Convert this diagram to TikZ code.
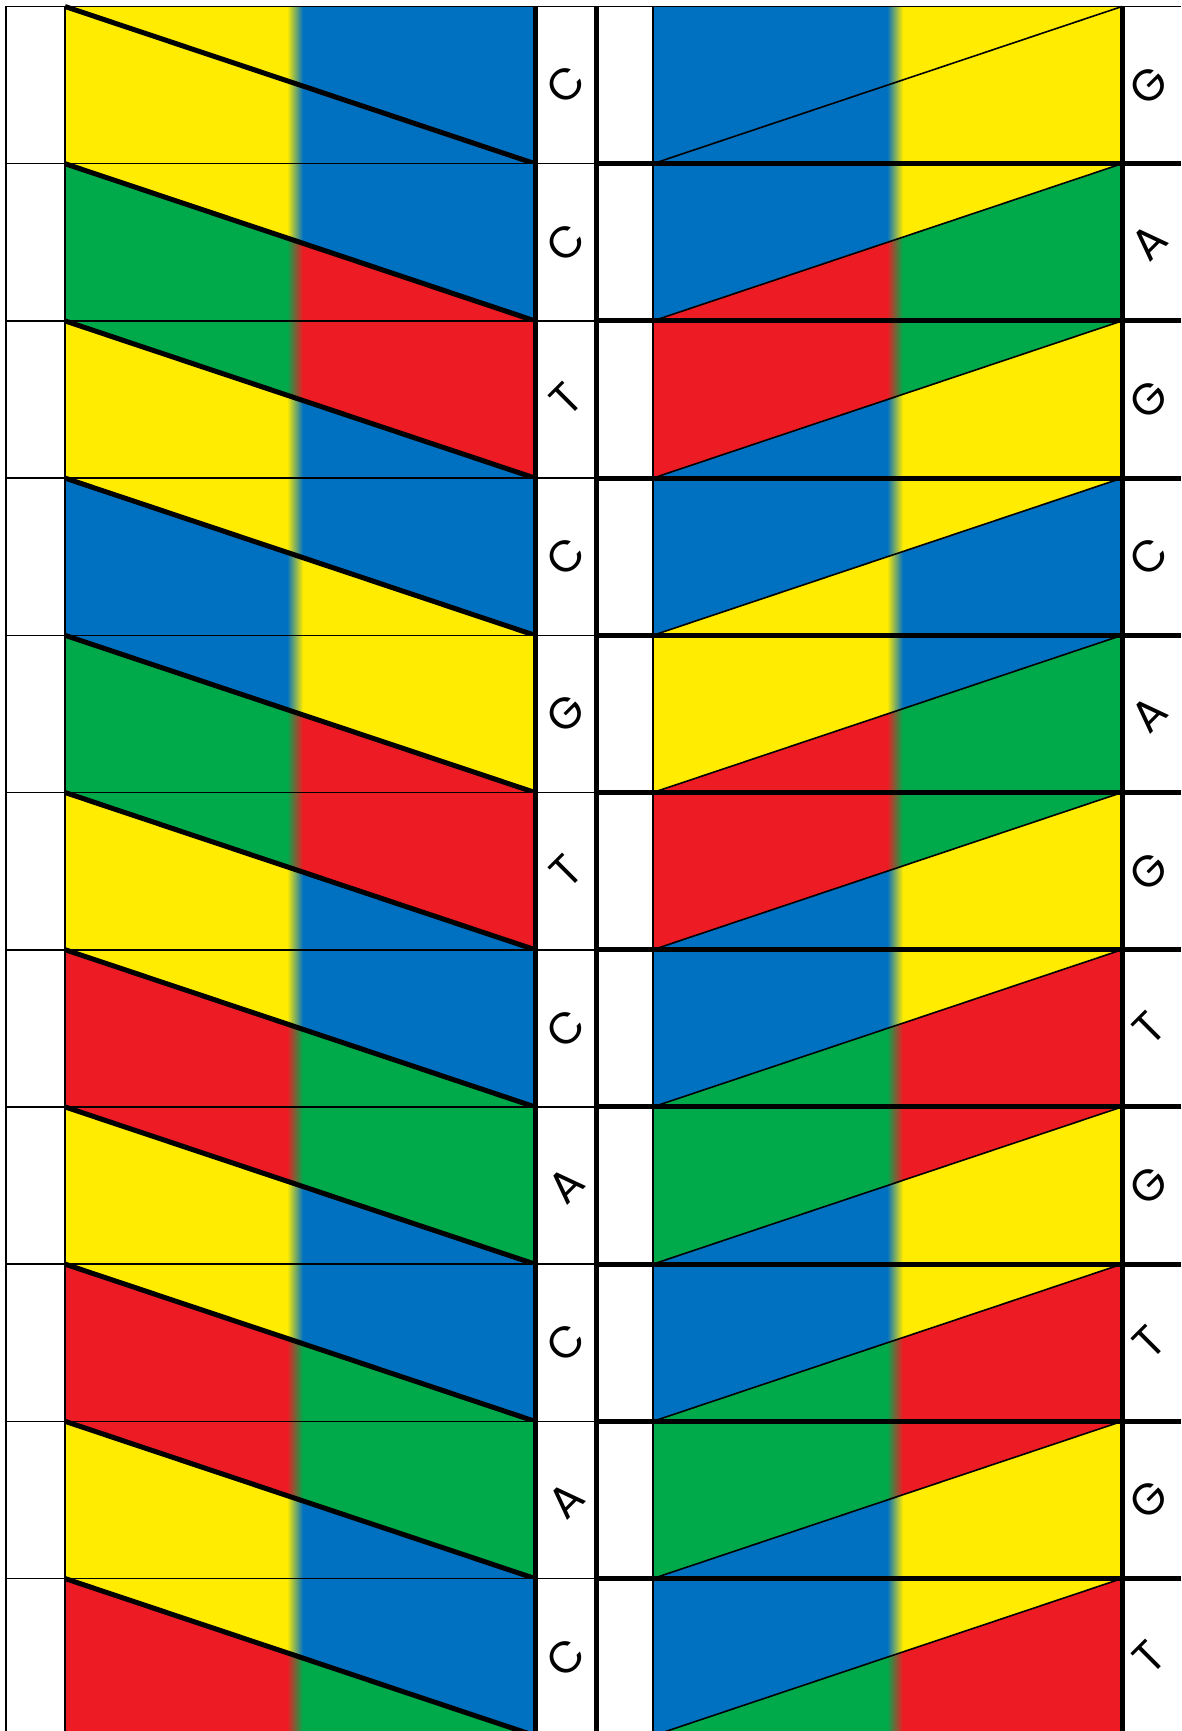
\documentclass[tikz,border=0pt]{standalone}
\usepackage{fontspec}
\setsansfont{Poppins}
\definecolor{dnayellow}{RGB}{255,236,0}
\definecolor{dnablue}{RGB}{0,112,192}
\definecolor{dnagreen}{RGB}{0,170,75}
\definecolor{dnared}{RGB}{237,28,36}
\newcommand{\colorband}[7]{%
  \fill[#6] (#1,#4) rectangle (#2,#5);
  \fill[#7] (#2,#4) rectangle (#3,#5);
  \shade[left color=#6,right color=#7] ({#2-8},#4) rectangle ({#2+8},#5);
}
\tikzset{
  edgethin/.style={line width=1.6pt},
  edgethick/.style={line width=5pt},
  baseletter/.style={font=\sffamily\fontsize{44}{44}\selectfont, rotate=45, inner sep=0pt}
}

\begin{document}
\begin{tikzpicture}[x=1pt,y=-1pt]
\useasboundingbox (0,0) rectangle (1181,1731);
\clip (0,0) rectangle (1181,1731);
\fill[white] (0,0) rectangle (1181,1731);
\foreach \al/\ar/\bl/\br/\lb/\rb [count=\i from 0] in {
  yellow/blue/yellow/blue/C/G, yellow/blue/green/red/C/A,
  green/red/yellow/blue/T/G, yellow/blue/blue/yellow/C/C,
  blue/yellow/green/red/G/A, green/red/yellow/blue/T/G,
  yellow/blue/red/green/C/T, red/green/yellow/blue/A/G,
  yellow/blue/red/green/C/T, red/green/yellow/blue/A/G,
  yellow/blue/red/green/C/T} {
  \pgfmathsetmacro{\yt}{6.5+157.2*\i}
  \pgfmathsetmacro{\yb}{\yt+157.2}
  \colorband{65}{295}{535}{\yt}{\yb}{dna\bl}{dna\br}
  \begin{scope}
    \clip (65,\yt) -- (535,\yt) -- (535,\yb) -- cycle;
    \colorband{65}{295}{535}{\yt}{\yb}{dna\al}{dna\ar}
  \end{scope}
  \colorband{653}{895}{1122}{\yt}{\yb}{dna\br}{dna\bl}
  \begin{scope}
    \clip (653,\yt) -- (1122,\yt) -- (653,\yb) -- cycle;
    \colorband{653}{895}{1122}{\yt}{\yb}{dna\ar}{dna\al}
  \end{scope}
  \draw[edgethick] (65,\yt) -- (535,\yb);
  \draw[edgethin] (653,\yb) -- (1122,\yt);
  \node[baseletter] (left\i) at (566,{\yt+78.6}) {\lb};
  \node[baseletter] (right\i) at (1149,{\yt+78.6}) {\rb};
}
\foreach \i in {1,...,10} {
  \pgfmathsetmacro{\yt}{6.5+157.2*\i}
  \draw[edgethin] (6,\yt) -- (596,\yt);
  \draw[edgethick] (596,\yt) -- (1181,\yt);
}
\draw[edgethin] (6,6.5) -- (1181,6.5);
\draw[edgethin] (6,6.5) -- (6,1731);
\draw[edgethin] (65,6.5) -- (65,1731);
\draw[edgethin] (653,6.5) -- (653,1731);
\draw[edgethick] (535,6.5) -- (535,1731);
\draw[edgethick] (596,6.5) -- (596,1731);
\draw[edgethick] (1122,6.5) -- (1122,1731);
\end{tikzpicture}
\end{document}
